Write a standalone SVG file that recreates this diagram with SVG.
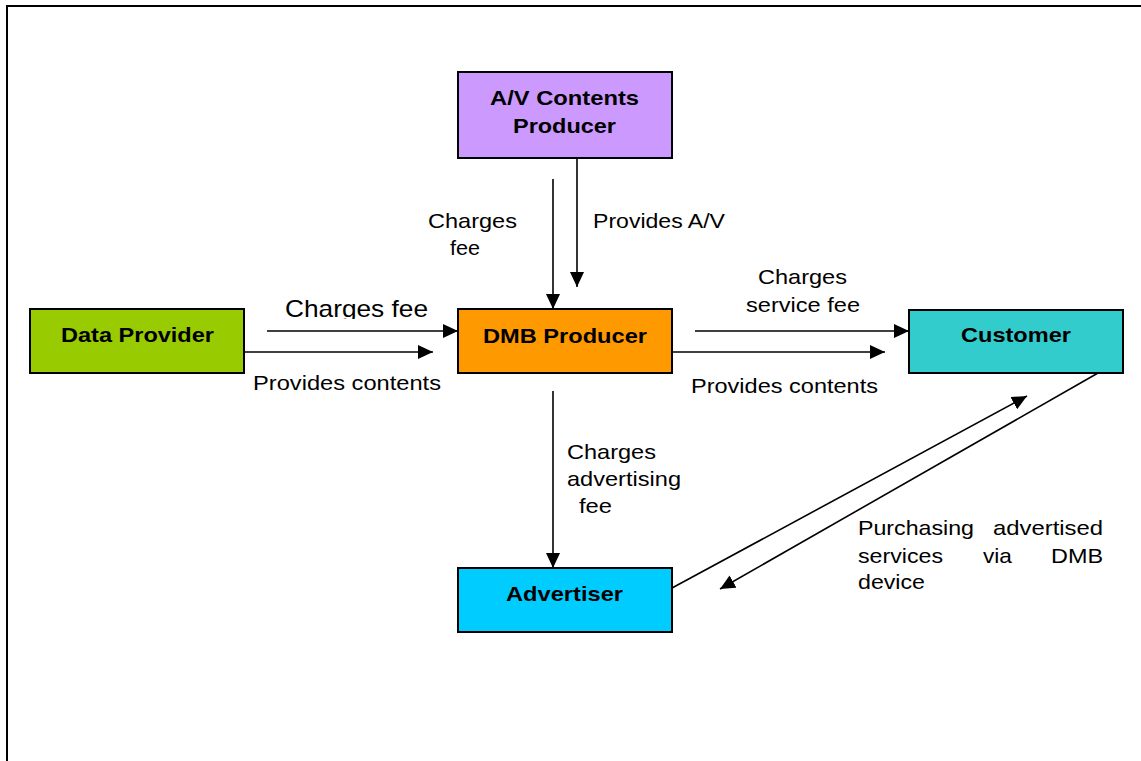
<svg xmlns="http://www.w3.org/2000/svg" width="1141" height="761" viewBox="0 0 1141 761">
<style>
.box{stroke:#000;stroke-width:2}
.lbl{font-family:"Liberation Sans",Arial,sans-serif;font-size:21px;fill:#000}
.b{font-weight:bold}
.ln{stroke:#000;stroke-width:1.6;fill:none;marker-end:url(#ah)}
</style>
<defs>
<marker id="ah" markerUnits="userSpaceOnUse" markerWidth="16" markerHeight="14" refX="15" refY="7" orient="auto">
<path d="M0,0 L15,7 L0,14 z" fill="#000"/>
</marker>
<clipPath id="cf"><rect x="270" y="290" width="180" height="29"/></clipPath>
</defs>
<rect width="1141" height="761" fill="#fff"/>
<path d="M7,761 L7,6 L1141,6" stroke="#000" stroke-width="2" fill="none"/>
<g id="connectors">
<line class="ln" x1="553" y1="179" x2="553" y2="309"/>
<line class="ln" x1="577" y1="158" x2="577" y2="287"/>
<line class="ln" x1="267" y1="331" x2="458" y2="331"/>
<line class="ln" x1="244" y1="352" x2="433" y2="352"/>
<line class="ln" x1="695" y1="331" x2="909" y2="331"/>
<line class="ln" x1="672" y1="352" x2="885" y2="352"/>
<line class="ln" x1="553" y1="391" x2="553" y2="568"/>
<line class="ln" x1="672" y1="588" x2="1027" y2="396"/>
<line class="ln" x1="1098" y1="373" x2="720" y2="589"/>
<text class="lbl" x="428" y="228" textLength="89" lengthAdjust="spacingAndGlyphs">Charges</text>
<text class="lbl" x="450" y="255" textLength="30" lengthAdjust="spacingAndGlyphs">fee</text>
<text class="lbl" x="593" y="228" textLength="132" lengthAdjust="spacingAndGlyphs">Provides A/V</text>
<text class="lbl" x="285" y="317" font-size="24" textLength="143" lengthAdjust="spacingAndGlyphs" clip-path="url(#cf)" style="font-size:24px">Charges fee</text>
<text class="lbl" x="253" y="390" textLength="188" lengthAdjust="spacingAndGlyphs">Provides contents</text>
<text class="lbl" x="758" y="284" textLength="89" lengthAdjust="spacingAndGlyphs">Charges</text>
<text class="lbl" x="746" y="312" textLength="114" lengthAdjust="spacingAndGlyphs">service fee</text>
<text class="lbl" x="691" y="393" textLength="187" lengthAdjust="spacingAndGlyphs">Provides contents</text>
<text class="lbl" x="567" y="459" textLength="89" lengthAdjust="spacingAndGlyphs">Charges</text>
<text class="lbl" x="567" y="486" textLength="114" lengthAdjust="spacingAndGlyphs">advertising</text>
<text class="lbl" x="579" y="513" textLength="33" lengthAdjust="spacingAndGlyphs">fee</text>
<text class="lbl" x="858" y="535" textLength="116" lengthAdjust="spacingAndGlyphs">Purchasing</text>
<text class="lbl" x="993" y="535" textLength="110" lengthAdjust="spacingAndGlyphs">advertised</text>
<text class="lbl" x="858" y="563" textLength="85" lengthAdjust="spacingAndGlyphs">services</text>
<text class="lbl" x="983" y="563" textLength="29" lengthAdjust="spacingAndGlyphs">via</text>
<text class="lbl" x="1051" y="563" textLength="52" lengthAdjust="spacingAndGlyphs">DMB</text>
<text class="lbl" x="858" y="589" textLength="67" lengthAdjust="spacingAndGlyphs">device</text>
</g>
<g id="av">
<rect class="box" x="458" y="72" width="214" height="86" fill="#CC99FF"/>
<text class="lbl b" x="490" y="105" textLength="149" lengthAdjust="spacingAndGlyphs">A/V Contents</text>
<text class="lbl b" x="513" y="133" textLength="103" lengthAdjust="spacingAndGlyphs">Producer</text>
</g>
<g id="data">
<rect class="box" x="30" y="309" width="214" height="64" fill="#99CC00"/>
<text class="lbl b" x="61" y="342" textLength="153" lengthAdjust="spacingAndGlyphs">Data Provider</text>
</g>
<g id="dmb">
<rect class="box" x="458" y="309" width="214" height="64" fill="#FF9900"/>
<text class="lbl b" x="483" y="343" textLength="164" lengthAdjust="spacingAndGlyphs">DMB Producer</text>
</g>
<g id="customer">
<rect class="box" x="909" y="310" width="214" height="63" fill="#33CCCC"/>
<text class="lbl b" x="961" y="342" textLength="110" lengthAdjust="spacingAndGlyphs">Customer</text>
</g>
<g id="advertiser">
<rect class="box" x="458" y="568" width="214" height="64" fill="#00CCFF"/>
<text class="lbl b" x="506" y="601" textLength="117" lengthAdjust="spacingAndGlyphs">Advertiser</text>
</g>
</svg>
